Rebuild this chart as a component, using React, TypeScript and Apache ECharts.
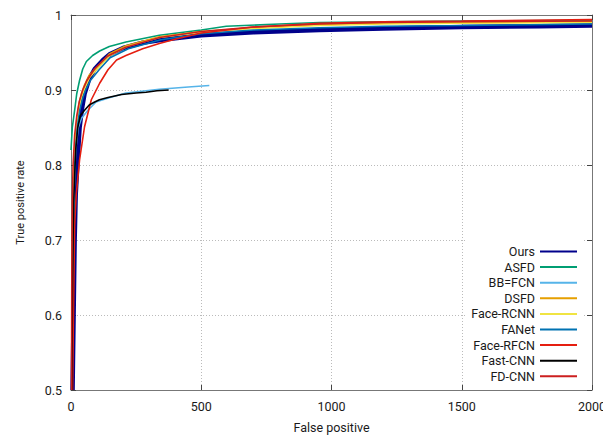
import React, { useEffect, useRef } from "react";
import * as echarts from "echarts";

// False positives (x) and true positive rate (y) for each method
const oursFP = [6, 10, 14, 18, 26, 33, 42, 52, 70, 91, 123, 150, 200, 275, 350, 500, 700, 954, 1200, 1500, 1800, 2000];
const oursTPR = [0.5, 0.6, 0.7, 0.76, 0.81, 0.85, 0.875, 0.895, 0.915, 0.928, 0.94, 0.948, 0.956, 0.963, 0.967, 0.973, 0.977, 0.98, 0.982, 0.984, 0.985, 0.986];

const asfdFP = [0, 5, 14, 22, 33, 45, 59, 83, 110, 147, 211, 339, 500, 596, 800, 954, 1200, 1500, 2000];
const asfdTPR = [0.82, 0.85, 0.873, 0.895, 0.913, 0.928, 0.938, 0.946, 0.952, 0.958, 0.964, 0.973, 0.98, 0.985, 0.988, 0.99, 0.991, 0.992, 0.993];

const bbfcnFP = [3, 6, 10, 18, 28, 40, 65, 96, 150, 211, 339, 450, 531];
const bbfcnTPR = [0.5, 0.65, 0.75, 0.82, 0.85, 0.862, 0.873, 0.884, 0.89, 0.896, 0.901, 0.904, 0.906];

const dsfdFP = [3, 5, 8, 14, 22, 30, 40, 52, 70, 104, 147, 211, 339, 500, 700, 954, 1200, 1500, 2000];
const dsfdTPR = [0.5, 0.65, 0.75, 0.82, 0.86, 0.88, 0.895, 0.907, 0.92, 0.932, 0.948, 0.959, 0.971, 0.978, 0.983, 0.987, 0.989, 0.99, 0.991];

const faceRcnnFP = [4, 6, 9, 15, 23, 31, 42, 55, 72, 105, 150, 215, 340, 500, 700, 954, 1200, 1500, 2000];
const faceRcnnTPR = [0.5, 0.64, 0.74, 0.815, 0.855, 0.876, 0.892, 0.904, 0.917, 0.93, 0.946, 0.958, 0.97, 0.977, 0.982, 0.986, 0.988, 0.989, 0.99];

const fanetFP = [4, 7, 10, 16, 24, 33, 44, 56, 75, 108, 150, 220, 345, 500, 700, 954, 1200, 1500, 2000];
const fanetTPR = [0.5, 0.64, 0.74, 0.81, 0.85, 0.872, 0.888, 0.9, 0.913, 0.927, 0.943, 0.955, 0.967, 0.975, 0.98, 0.983, 0.985, 0.986, 0.988];

const faceRfcnFP = [6, 10, 14, 20, 33, 52, 78, 110, 142, 175, 211, 275, 339, 403, 500, 700, 954, 1200, 1500, 2000];
const faceRfcnTPR = [0.5, 0.62, 0.72, 0.76, 0.807, 0.851, 0.887, 0.909, 0.927, 0.94, 0.946, 0.955, 0.962, 0.968, 0.976, 0.984, 0.989, 0.991, 0.992, 0.994];

const fastCnnFP = [3, 6, 10, 18, 26, 36, 52, 70, 91, 109, 142, 194, 250, 288, 330, 375];
const fastCnnTPR = [0.5, 0.65, 0.75, 0.82, 0.85, 0.866, 0.873, 0.88, 0.884, 0.887, 0.89, 0.894, 0.896, 0.897, 0.899, 0.9];

const fdCnnFP = [2, 3, 5, 8, 14, 22, 32, 45, 60, 90, 140, 210, 340, 500, 700, 954, 1200, 1500, 2000];
const fdCnnTPR = [0.5, 0.65, 0.75, 0.8, 0.84, 0.865, 0.885, 0.9, 0.912, 0.928, 0.945, 0.957, 0.97, 0.978, 0.984, 0.988, 0.99, 0.991, 0.992];

const seriesNames = ["Ours", "ASFD", "BB=FCN", "DSFD", "Face-RCNN", "FANet", "Face-RFCN", "Fast-CNN", "FD-CNN"];
const seriesColors = ["#00008b", "#009e73", "#56b4e9", "#e69f00", "#f0e442", "#0072b2", "#e51e10", "#000000", "#cc1f1f"];
const seriesFP = [oursFP, asfdFP, bbfcnFP, dsfdFP, faceRcnnFP, fanetFP, faceRfcnFP, fastCnnFP, fdCnnFP];
const seriesTPR = [oursTPR, asfdTPR, bbfcnTPR, dsfdTPR, faceRcnnTPR, fanetTPR, faceRfcnTPR, fastCnnTPR, fdCnnTPR];

const xTicks = { min: 0, max: 2000, interval: 500 };
const yTicks = { min: 0.5, max: 1, interval: 0.1 };

const FONT = "Roboto";
const AXIS_COLOR = "#777";
const TEXT_COLOR = "#1a1a1a";

export default function App() {
  const ref = useRef<HTMLDivElement>(null);

  useEffect(() => {
    if (!ref.current) return;
    const chart = echarts.init(ref.current, undefined, { renderer: "svg" });

    const series = seriesNames.map((name, i) => ({
      name,
      type: "line",
      symbol: "none",
      showSymbol: false,
      data: seriesFP[i].map((x, j) => [x, seriesTPR[i][j]]),
      lineStyle: { color: seriesColors[i], width: i === 0 ? 4.5 : 1.6 },
      itemStyle: { color: seriesColors[i] },
      z: i === 0 ? 2 : 3,
      silent: true,
    }));

    const axisCommon = {
      type: "value",
      axisLine: { show: true, onZero: false, lineStyle: { color: AXIS_COLOR, width: 1 } },
      axisTick: { show: true, inside: true, length: 5, lineStyle: { color: "#444" } },
    };

    chart.setOption({
      animation: false,
      backgroundColor: "#fff",
      textStyle: { fontFamily: FONT },
      grid: { left: 71, right: 11, top: 15, bottom: 49, outerBoundsMode: "none", containLabel: false },
      legend: {
        orient: "vertical",
        right: 19,
        top: 239,
        align: "right",
        itemWidth: 37,
        itemHeight: 14,
        itemGap: 2.6,
        padding: [6, 6, 6, 6],
        backgroundColor: "#fff",
        data: seriesNames,
        itemStyle: { color: "transparent", borderColor: "transparent", borderWidth: 0, opacity: 0 },
        textStyle: { fontFamily: FONT, fontSize: 12.5, color: TEXT_COLOR },
      },
      xAxis: [
        {
          ...axisCommon,
          position: "bottom",
          ...xTicks,
          name: "False positive",
          nameLocation: "middle",
          nameGap: 31,
          nameTextStyle: { fontFamily: FONT, fontSize: 12.5, color: TEXT_COLOR },
          axisLabel: {
            margin: 10,
            fontFamily: FONT,
            fontSize: 12.5,
            color: TEXT_COLOR,
            formatter: (v: number) => String(v),
          },
          splitLine: { show: true, lineStyle: { color: "#bbb", type: [1, 2], width: 1 } },
        },
        {
          ...axisCommon,
          position: "top",
          ...xTicks,
          axisLabel: { show: false },
          splitLine: { show: false },
        },
      ],
      yAxis: [
        {
          ...axisCommon,
          position: "left",
          ...yTicks,
          name: "True positive rate",
          nameLocation: "middle",
          nameGap: 45,
          nameTextStyle: { fontFamily: FONT, fontSize: 11, color: TEXT_COLOR },
          axisLabel: {
            margin: 9,
            fontFamily: FONT,
            fontSize: 12.5,
            color: TEXT_COLOR,
            formatter: (v: number) => (Math.abs(v - 1) < 1e-9 ? "1" : v.toFixed(1)),
          },
          splitLine: { show: true, lineStyle: { color: "#bbb", type: [1, 2], width: 1 } },
        },
        {
          ...axisCommon,
          position: "right",
          ...yTicks,
          axisLabel: { show: false },
          splitLine: { show: false },
        },
      ],
      series,
    });

    return () => chart.dispose();
  }, []);

  return (
    <div
      ref={ref}
      style={{ position: "absolute", left: 0, top: 0, width: 603, height: 439 }}
    />
  );
}
